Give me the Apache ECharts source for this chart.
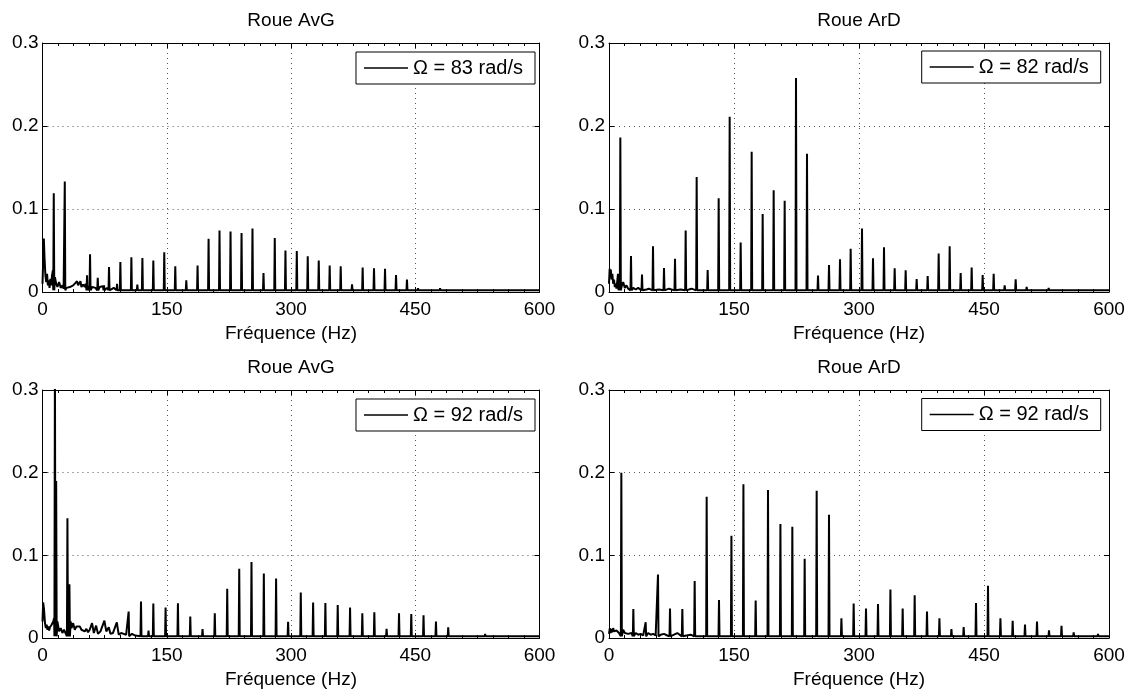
<!DOCTYPE html>
<html><head><meta charset="utf-8">
<script src="https://cdn.jsdelivr.net/npm/echarts@6/dist/echarts.min.js"></script>
<style>html,body{margin:0;padding:0;background:#fff}#c{width:1130px;height:690px}</style>
</head><body><div id="c"></div>
<script>
// ---------- data ----------
const xTicks = [0, 150, 300, 450, 600];
const yTicks = [0, 0.1, 0.2, 0.3];
const panelTitles = ['Roue AvG', 'Roue ArD', 'Roue AvG', 'Roue ArD'];
const legendNames = ['Ω = 83 rad/s', 'Ω = 82 rad/s', 'Ω = 92 rad/s', 'Ω = 92 rad/s'];
const xName = 'Fréquence (Hz)';
const floorLevel = 0.002;

// top-left : Roue AvG, 83 rad/s  [Hz, amplitude]
const tlPeaks = [[13.6,0.119],[26.9,0.133],[53.8,0.020],[57.4,0.0455],[66.7,0.017],[74.3,0.008],[80.3,0.030],[90,0.010],[94,0.036],[107.3,0.042],[114.5,0.009],[120.6,0.041],[133.8,0.038],[147,0.048],[160.3,0.031],[173.6,0.014],[187.2,0.032],[200.5,0.064],[213.7,0.074],[227,0.073],[240.3,0.071],[253.5,0.0765],[266.8,0.023],[280.4,0.065],[293.3,0.050],[307,0.0495],[320.2,0.043],[333.5,0.038],[346.7,0.032],[360,0.031],[373.7,0.0093],[386.5,0.0295],[400.2,0.0286],[413.5,0.028],[426.8,0.0205],[440,0.015],[453.3,0.0045],[467,0.003],[480,0.0045],[493.4,0.004],[506.7,0.003],[520.3,0.003],[533.6,0.004],[547.3,0.003],[560,0.002],[573.8,0.002],[587.5,0.0015]];
const tlNoise = [[0,0.01],[0.6,0.03],[1.6,0.0645],[2.5,0.04],[3.5,0.02],[4.5,0.012],[5.5,0.022],[6.5,0.008],[7.5,0.014],[8.5,0.005],[9.5,0.016],[10.5,0.008],[11.5,0.02],[12.5,0.026],[15,0.018],[16.5,0.01],[18,0.006],[20,0.012],[22,0.005],[24,0.008],[25.5,0.004],[29,0.005],[31,0.003],[33,0.006],[35,0.004],[37,0.008],[39,0.01],[41.7,0.013],[43,0.008],[45.8,0.013],[47,0.006],[49,0.009],[51,0.006],[52,0.01],[55,0.007],[60,0.006],[62,0.008],[64,0.005],[69,0.006],[71,0.004],[73,0.007],[76,0.004],[78,0.005],[83,0.003],[86,0.005],[88,0.003],[92,0.004],[97,0.003]];

// top-right : Roue ArD, 82 rad/s
const trPeaks = [[10.8,0.022],[13.6,0.186],[26.4,0.0435],[39.6,0.021],[52.8,0.055],[66,0.029],[79.2,0.040],[92,0.074],[105.2,0.1385],[118.4,0.0266],[131.6,0.113],[144.8,0.211],[158,0.0597],[171.2,0.169],[184.4,0.094],[197.6,0.1225],[210.8,0.110],[224.4,0.2577],[237.6,0.1667],[250.8,0.0198],[264,0.0326],[277.2,0.0395],[290,0.052],[303.6,0.0766],[316.8,0.0407],[330,0.054],[342.8,0.0286],[356,0.0262],[369.2,0.0157],[382.4,0.0193],[395.6,0.0464],[408.8,0.0552],[422,0.023],[435.2,0.0295],[448.4,0.0205],[461.6,0.022],[474.8,0.008],[488,0.0153],[501.2,0.006],[514.4,0.003],[527.6,0.005],[540.8,0.002],[554,0.0015],[567,0.0015],[580,0.002],[594,0.004]];
const trNoise = [[0,0.01],[0.8,0.028],[1.5,0.02],[2.2,0.027],[3,0.015],[4,0.022],[5,0.01],[6,0.015],[7,0.006],[8,0.01],[9,0.004],[12,0.006],[15.5,0.008],[17,0.012],[19,0.005],[21,0.008],[23,0.004],[29,0.005],[32,0.003],[35,0.005],[45,0.003],[48,0.004],[60,0.003],[72,0.004],[86,0.003],[99,0.004]];

// bottom-left : Roue AvG, 92 rad/s
const blPeaks = [[15.0,0.34],[16.5,0.19],[30.1,0.145],[32.5,0.065],[104,0.032],[118.9,0.044],[128,0.009],[133.8,0.0416],[148.6,0.037],[163.5,0.042],[178.4,0.026],[193.2,0.0108],[208,0.030],[223,0.0597],[237.5,0.0837],[252.3,0.092],[267.2,0.078],[282,0.072],[296.5,0.0196],[311.8,0.055],[326.7,0.043],[341.5,0.0424],[356.4,0.040],[371.3,0.037],[386.1,0.030],[400.6,0.031],[415.4,0.011],[430.4,0.030],[445.2,0.029],[460,0.0276],[475,0.020],[489.8,0.0128],[504.6,0.004],[519.6,0.003],[534.4,0.005],[549.3,0.003],[564.2,0.003],[579,0.003],[593.9,0.003]];
const blNoise = [[0,0.02],[0.8,0.043],[1.8,0.035],[3,0.018],[4,0.012],[5,0.016],[6,0.01],[7,0.014],[8,0.009],[9,0.013],[10,0.011],[11,0.016],[12,0.014],[13,0.02],[14,0.024],[18,0.02],[20,0.008],[22,0.012],[24,0.006],[26,0.01],[28,0.012],[34,0.02],[35,0.012],[37,0.018],[39,0.01],[41,0.014],[43,0.012],[45,0.014],[47,0.01],[49,0.012],[51,0.008],[53,0.011],[55,0.007],[57,0.01],[59.8,0.018],[62,0.006],[64.7,0.015],[67,0.005],[70,0.008],[72,0.006],[74.7,0.021],[77,0.008],[80,0.013],[82,0.005],[85,0.006],[89.7,0.019],[92,0.004],[95,0.006],[98,0.005],[101,0.004],[108,0.005],[112,0.003]];

// bottom-right : Roue ArD, 92 rad/s
const brPeaks = [[14.8,0.200],[29.2,0.035],[44,0.019],[58.8,0.0768],[73.2,0.0356],[88,0.035],[102.8,0.069],[117.2,0.1708],[132,0.046],[146.9,0.1237],[161.3,0.186],[176,0.0452],[190.8,0.179],[205.7,0.138],[220,0.1345],[234.8,0.096],[249.2,0.178],[264,0.149],[278.9,0.024],[293.6,0.0416],[308.4,0.0356],[322.8,0.041],[337.7,0.0588],[352.4,0.0356],[366.8,0.0516],[381.6,0.032],[396.5,0.024],[410.9,0.0108],[425.6,0.0132],[440.4,0.0424],[454.8,0.0632],[469.7,0.024],[484.4,0.0208],[499.2,0.0164],[513.6,0.020],[528,0.0092],[543,0.0148],[557.6,0.0068],[572,0.003],[586.8,0.005]];
const brNoise = [[0,0.005],[1,0.012],[2,0.006],[3,0.011],[4,0.007],[5,0.012],[6,0.008],[7,0.01],[8,0.006],[9,0.009],[10,0.007],[11,0.01],[12,0.006],[13,0.008],[17,0.01],[19,0.006],[21,0.008],[23,0.005],[25,0.007],[27,0.006],[32,0.006],[35,0.004],[38,0.005],[41,0.003],[47,0.006],[50,0.004],[53,0.005],[56,0.003],[62,0.004],[66,0.005],[70,0.003],[78,0.004],[82,0.006],[93,0.003],[98,0.004]];

const panelPeaks = [tlPeaks, trPeaks, blPeaks, brPeaks];
const panelNoise = [tlNoise, trNoise, blNoise, brNoise];

// ---------- chart ----------
function buildLine(peaks, noise) {
  const pts = noise.map(p => [p[0], p[1]]);
  peaks.forEach(p => {
    pts.push([p[0] - 0.6, floorLevel]);
    pts.push([p[0], p[1]]);
    pts.push([p[0] + 0.6, floorLevel]);
  });
  pts.push([600, floorLevel]);
  pts.sort((a, b) => a[0] - b[0]);
  return pts;
}

const FONT = "'Liberation Sans', Arial, Helvetica, sans-serif";
const FS = 19;
const grids = [
  {left: 42.5, top: 43, width: 497, height: 249},
  {left: 609, top: 43, width: 500, height: 249},
  {left: 42.5, top: 390, width: 497, height: 250},
  {left: 609, top: 390, width: 500, height: 250}
];
const titlePos = [[291, 11], [859, 11], [291, 358], [859, 358]];
const legendPos = [[595, 52], [29.3, 51], [595, 399], [29.3, 398.5]];

const xAxes = [], yAxes = [], series = [], titles = [], legends = [];
grids.forEach((g, i) => {
  xAxes.push({
    gridIndex: i, type: 'value', min: xTicks[0], max: xTicks[xTicks.length - 1],
    interval: xTicks[1] - xTicks[0], position: 'bottom',
    name: xName, nameLocation: 'middle', nameGap: 32,
    nameTextStyle: {fontFamily: FONT, fontSize: FS, color: '#000'},
    axisLine: {show: true, onZero: false, lineStyle: {color: '#000', width: 1}},
    axisTick: {show: true, inside: true, length: 5, lineStyle: {color: '#000'}},
    minorTick: {show: true, splitNumber: 8, length: 3, lineStyle: {color: '#000'}},
    axisLabel: {fontFamily: FONT, fontSize: FS, color: '#000', margin: 8},
    splitLine: {show: true, lineStyle: {color: '#555', type: [1, 4], width: 1}}
  });
  xAxes.push({
    gridIndex: i, type: 'value', min: xTicks[0], max: xTicks[xTicks.length - 1],
    interval: xTicks[1] - xTicks[0], position: 'top',
    axisLine: {show: true, onZero: false, lineStyle: {color: '#000', width: 1}},
    axisTick: {show: true, inside: true, length: 5, lineStyle: {color: '#000'}},
    minorTick: {show: true, splitNumber: 8, length: 3, lineStyle: {color: '#000'}},
    axisLabel: {show: false}, splitLine: {show: false}
  });
  yAxes.push({
    gridIndex: i, type: 'value', min: yTicks[0], max: yTicks[yTicks.length - 1],
    interval: yTicks[1] - yTicks[0], position: 'left',
    axisLine: {show: true, onZero: false, lineStyle: {color: '#000', width: 1}},
    axisTick: {show: true, inside: true, length: 5, lineStyle: {color: '#000'}},
    axisLabel: {fontFamily: FONT, fontSize: FS, color: '#000', margin: 4},
    splitLine: {show: true, lineStyle: {color: '#555', type: [1, 4], width: 1}}
  });
  yAxes.push({
    gridIndex: i, type: 'value', min: yTicks[0], max: yTicks[yTicks.length - 1],
    interval: yTicks[1] - yTicks[0], position: 'right',
    axisLine: {show: true, onZero: false, lineStyle: {color: '#000', width: 1}},
    axisTick: {show: true, inside: true, length: 5, lineStyle: {color: '#000'}},
    axisLabel: {show: false}, splitLine: {show: false}
  });
  series.push({
    type: 'line', name: legendNames[i], xAxisIndex: 2 * i, yAxisIndex: 2 * i,
    data: buildLine(panelPeaks[i], panelNoise[i]),
    showSymbol: false, symbol: 'none', clip: true,
    lineStyle: {color: '#000', width: 2}, itemStyle: {color: '#000'},
    emphasis: {disabled: true}, animation: false
  });
  titles.push({
    text: panelTitles[i], left: titlePos[i][0], top: titlePos[i][1], textAlign: 'center', padding: 0,
    textStyle: {fontFamily: FONT, fontSize: FS, fontWeight: 'normal', color: '#000'}
  });
  legends.push({
    data: [legendNames[i]], right: legendPos[i][0], top: legendPos[i][1],
    orient: 'horizontal', backgroundColor: '#fff', borderColor: '#000', borderWidth: 1,
    borderRadius: 0, padding: [6, 12, 6, 8], icon: 'rect', itemWidth: 44, itemHeight: 1.6,
    itemStyle: {color: '#000'}, selectedMode: false,
    textStyle: {fontFamily: FONT, fontSize: 20, color: '#000'}
  });
});

const chart = echarts.init(document.getElementById('c'), null, {renderer: 'canvas'});
chart.setOption({
  backgroundColor: '#fff', animation: false,
  grid: grids.map(g => Object.assign({containLabel: false}, g)),
  xAxis: xAxes, yAxis: yAxes, series: series, title: titles, legend: legends
});
</script></body></html>
